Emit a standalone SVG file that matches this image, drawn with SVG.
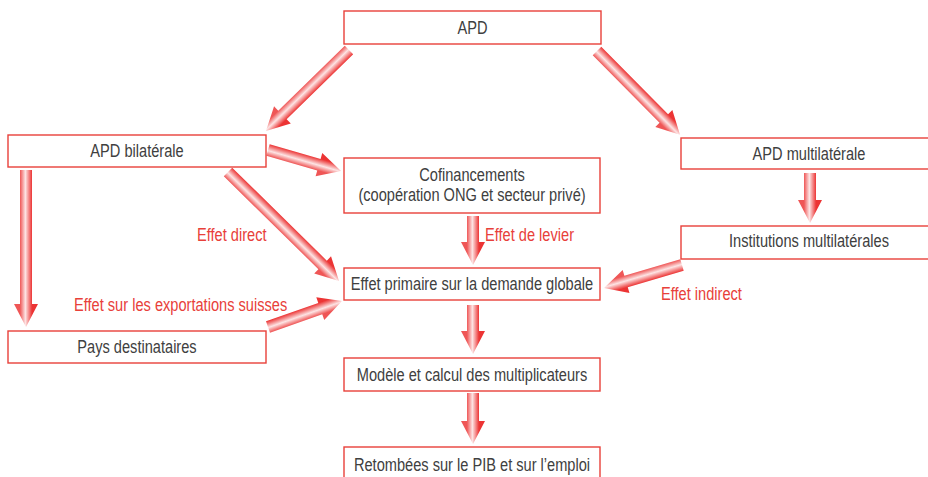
<svg xmlns="http://www.w3.org/2000/svg" width="928" height="477" viewBox="0 0 928 477">
<defs>
<linearGradient id="ag" gradientUnits="userSpaceOnUse" x1="0" y1="-6" x2="0" y2="6">
<stop offset="0" stop-color="#ec3434"/>
<stop offset="0.55" stop-color="#fde4e4"/>
<stop offset="1" stop-color="#ef5656"/>
</linearGradient>
</defs>
<style>
rect.box{fill:#fff;stroke:#e8403a;stroke-width:1.4}
text{font-family:"Liberation Sans",Arial,sans-serif;font-size:17.5px}
text.t{fill:#404040;text-anchor:middle}
text.l{fill:#e8403a}
.arr path{fill:url(#ag)}
</style>
<rect width="928" height="477" fill="#fff"/>
<g id="connectors" class="arr">
<path transform="translate(349,50) rotate(135.7)" d="M0,-6H93V-12L116,0L93,12V6H0Z"/>
<path transform="translate(597,51) rotate(45.3)" d="M0,-6H95V-12L118,0L95,12V6H0Z"/>
<path transform="translate(268,150) rotate(16.05)" d="M0,-6H53V-12L76,0L53,12V6H0Z"/>
<path transform="translate(228,172) rotate(44.48)" d="M0,-6H132.6V-12L155.6,0L132.6,12V6H0Z"/>
<path transform="translate(26,170) rotate(90)" d="M0,-6H134V-12L157,0L134,12V6H0Z"/>
<path transform="translate(473,216) rotate(90)" d="M0,-6H26V-12L49,0L26,12V6H0Z"/>
<path transform="translate(810,173) rotate(90)" d="M0,-6H27V-12L50,0L27,12V6H0Z"/>
<path transform="translate(682,265) rotate(163.57)" d="M0,-6H58.3V-12L81.3,0L58.3,12V6H0Z"/>
<path transform="translate(268,327) rotate(-19.36)" d="M0,-6H55.4V-12L78.4,0L55.4,12V6H0Z"/>
<path transform="translate(473,305) rotate(90)" d="M0,-6H26V-12L49,0L26,12V6H0Z"/>
<path transform="translate(473,393) rotate(90)" d="M0,-6H28V-12L51,0L28,12V6H0Z"/>
</g>
<g id="apd">
<rect class="box" x="344" y="11" width="257" height="33"/>
<text class="t" transform="translate(472.5,34) scale(0.835,1)">APD</text>
</g>
<g id="apd-bilaterale">
<rect class="box" x="8" y="135" width="258" height="32"/>
<text class="t" transform="translate(137,157) scale(0.835,1)">APD bilatérale</text>
</g>
<g id="cofinancements">
<rect class="box" x="344" y="158" width="256" height="55"/>
<text class="t" transform="translate(472,181) scale(0.835,1)">Cofinancements</text>
<text class="t" transform="translate(472,201) scale(0.835,1)">(coopération ONG et secteur privé)</text>
</g>
<g id="apd-multilaterale">
<rect class="box" x="681" y="138" width="257" height="31"/>
<text class="t" transform="translate(809,160) scale(0.835,1)">APD multilatérale</text>
</g>
<g id="institutions">
<rect class="box" x="681" y="226" width="257" height="33"/>
<text class="t" transform="translate(809,247) scale(0.835,1)">Institutions multilatérales</text>
</g>
<g id="effet-primaire">
<rect class="box" x="344" y="268" width="256" height="32"/>
<text class="t" transform="translate(472,290) scale(0.835,1)">Effet primaire sur la demande globale</text>
</g>
<g id="pays">
<rect class="box" x="8" y="331" width="258" height="32"/>
<text class="t" transform="translate(137,353) scale(0.835,1)">Pays destinataires</text>
</g>
<g id="modele">
<rect class="box" x="344" y="358" width="256" height="33"/>
<text class="t" transform="translate(472,381) scale(0.835,1)">Modèle et calcul des multiplicateurs</text>
</g>
<g id="retombees">
<rect class="box" x="344" y="447" width="256" height="40"/>
<text class="t" transform="translate(472,471) scale(0.835,1)">Retombées sur le PIB et sur l’emploi</text>
</g>
<g id="labels">
<text class="l" transform="translate(197,241) scale(0.835,1)">Effet direct</text>
<text class="l" transform="translate(485,241) scale(0.835,1)">Effet de levier</text>
<text class="l" transform="translate(74,311) scale(0.835,1)">Effet sur les exportations suisses</text>
<text class="l" transform="translate(661,300) scale(0.835,1)">Effet indirect</text>
</g>
</svg>
